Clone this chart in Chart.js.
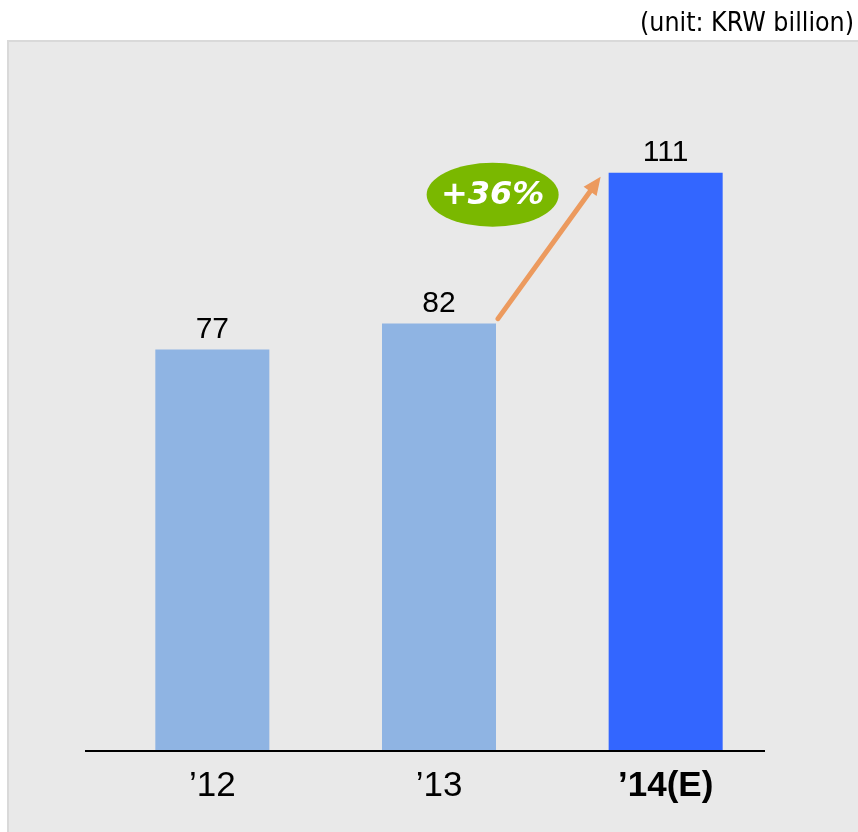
<!DOCTYPE html>
<html>
<head>
<meta charset="utf-8">
<script src="https://cdn.jsdelivr.net/npm/chart.js@4/dist/chart.umd.min.js"></script>
<style>
  html, body { margin: 0; padding: 0; background: #fff; }
  #wrap { width: 858px; height: 832px; position: relative; }
</style>
</head>
<body>
<div id="wrap"><canvas id="salesChart" width="858" height="832"></canvas></div>
<script>
// --- Chart data ---
const years = ['\u201912', '\u201913', '\u201914(E)'];
const sales = [77, 82, 111];
const barColors = ['#8fb4e3', '#8fb4e3', '#3366ff'];
const unitLabel = '(unit: KRW billion)';
const growthLabel = '+36%';

// Grey panel behind the plot plus the unit caption in the top right corner
const panelPlugin = {
    id: 'panel',
    beforeDraw(chart) {
        const ctx = chart.ctx;
        ctx.save();
        ctx.fillStyle = '#e9e9e9';
        ctx.fillRect(7, 40, chart.width - 7, chart.height - 40);
        ctx.strokeStyle = '#d9d9d9';
        ctx.lineWidth = 2;
        ctx.strokeRect(8, 41, chart.width, chart.height);
        ctx.fillStyle = '#000';
        ctx.font = '26.5px "DejaVu Sans Condensed", "DejaVu Sans", sans-serif';
        ctx.textAlign = 'right';
        ctx.textBaseline = 'alphabetic';
        ctx.fillText(unitLabel, chart.width - 4, 31);
        ctx.restore();
    }
};

// Baseline, value labels above bars and the growth arrow with its badge
const annotatePlugin = {
    id: 'annotate',
    afterDatasetsDraw(chart) {
        const ctx = chart.ctx;
        const area = chart.chartArea;
        const bars = chart.getDatasetMeta(0).data;
        ctx.save();

        // axis line
        ctx.strokeStyle = '#000';
        ctx.lineWidth = 2;
        ctx.beginPath();
        ctx.moveTo(area.left - 14, area.bottom + 1);
        ctx.lineTo(area.right - 14, area.bottom + 1);
        ctx.stroke();

        // value labels
        ctx.fillStyle = '#000';
        ctx.font = '30px "Liberation Sans", Arial, sans-serif';
        ctx.textAlign = 'center';
        ctx.textBaseline = 'alphabetic';
        bars.forEach((bar, i) => {
            ctx.fillText(String(sales[i]), bar.x, bar.y - 12);
        });

        // growth arrow from '13 to '14(E)
        const from = bars[1], to = bars[2];
        const x0 = from.x + from.width / 2 + 2, y0 = from.y - 5;
        const x1 = to.x - to.width / 2 - 8, y1 = to.y + 4;
        const ang = Math.atan2(y1 - y0, x1 - x0);
        const head = 18;
        ctx.strokeStyle = '#ec9a5e';
        ctx.fillStyle = '#ec9a5e';
        ctx.lineWidth = 5;
        ctx.lineCap = 'round';
        ctx.beginPath();
        ctx.moveTo(x0, y0);
        ctx.lineTo(x1 - Math.cos(ang) * head * 0.8, y1 - Math.sin(ang) * head * 0.8);
        ctx.stroke();
        ctx.beginPath();
        ctx.moveTo(x1, y1);
        ctx.lineTo(x1 - head * Math.cos(ang) + 8 * Math.sin(ang), y1 - head * Math.sin(ang) - 8 * Math.cos(ang));
        ctx.lineTo(x1 - head * Math.cos(ang) - 8 * Math.sin(ang), y1 - head * Math.sin(ang) + 8 * Math.cos(ang));
        ctx.closePath();
        ctx.fill();

        // green badge
        const cx = to.x - to.width / 2 - 116, cy = to.y + 22;
        ctx.fillStyle = '#7ab800';
        ctx.beginPath();
        ctx.ellipse(cx, cy, 66, 32, 0, 0, Math.PI * 2);
        ctx.fill();
        ctx.fillStyle = '#fff';
        ctx.font = 'italic bold 32px "DejaVu Sans", sans-serif';
        ctx.textBaseline = 'middle';
        ctx.fillText(growthLabel, cx, cy + 1);

        ctx.restore();
    }
};

const chart = new Chart(document.getElementById('salesChart'), {
    type: 'bar',
    data: {
        labels: years,
        datasets: [{
            data: sales,
            backgroundColor: barColors,
            borderWidth: 0,
            barPercentage: 0.503,
            categoryPercentage: 1
        }]
    },
    options: {
        responsive: false,
        animation: false,
        layout: { padding: { left: 99, right: 79, top: 100, bottom: 10 } },
        plugins: {
            legend: { display: false },
            tooltip: { enabled: false }
        },
        scales: {
            x: {
                grid: { display: false, drawTicks: false },
                border: { display: false },
                ticks: {
                    color: '#000',
                    padding: 15,
                    font: (c) => ({
                        family: '"Liberation Sans Narrow", "Liberation Sans", sans-serif',
                        size: 35,
                        weight: c.index === 2 ? 'bold' : 'normal'
                    })
                }
            },
            y: {
                display: false,
                min: 0,
                max: 125
            }
        }
    },
    plugins: [panelPlugin, annotatePlugin]
});
</script>
</body>
</html>
